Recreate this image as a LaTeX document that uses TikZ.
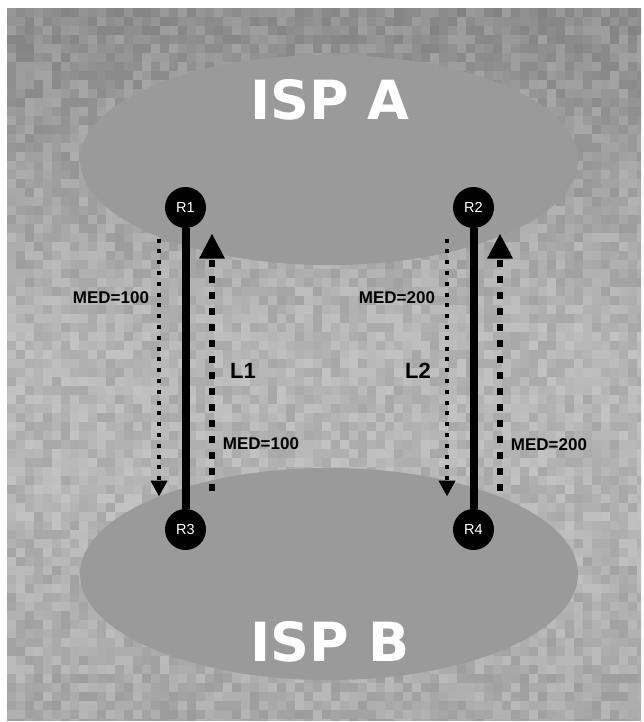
\documentclass[tikz,border=0pt]{standalone}
\usepackage{fontspec}
\setmainfont{Liberation Sans}
\newfontfamily\ispfont{DejaVu Sans}
\usetikzlibrary{arrows.meta,calc}

\definecolor{ispgray}{HTML}{9A9A9A}

\tikzset{
  router/.style={circle, fill=black, text=white, minimum size=41pt, inner sep=0pt,
    font=\fontsize{14.5}{14.5}\selectfont},
  link/.style={line width=8pt},
  medtext/.style={font=\fontsize{17}{17}\selectfont\bfseries},
  linktext/.style={font=\fontsize{22}{22}\selectfont\bfseries},
  isptext/.style={text=white, font=\ispfont\fontsize{54}{54}\selectfont\bfseries},
  sentmed/.style={line width=4pt, dash pattern=on 4pt off 6.8pt,
    -{Triangle[width=16pt,length=16pt]}},
  recvmed/.style={line width=6pt, dash pattern=on 7pt off 9pt,
    -{Triangle[width=24pt,length=25pt]}}
}

\begin{document}
\begin{tikzpicture}[x=1pt, y=-1pt]
  \useasboundingbox (0,0) rectangle (643,722);

  % Background texture
  \begin{scope}
    \clip (7,8) rectangle (641,720);
    \pgfmathsetseed{42}
    \foreach \i in {0,...,70}{
      \foreach \j in {0,...,79}{
        \pgfmathtruncatemacro{\shade}{24+11*rnd+15*max(0,1-\j/36)+5*max(0,(\j-55)/25)}
        \fill[black!\shade] (7+9*\i,8+9*\j) rectangle ++(9,9);
      }
    }
  \end{scope}

  % ISPs
  \fill[ispgray] (329,160) ellipse [x radius=249, y radius=105];
  \fill[ispgray] (329,574) ellipse [x radius=249, y radius=106];
  \node[isptext] (ispA) at (330,100) {ISP A};
  \node[isptext] (ispB) at (330,642) {ISP B};

  % Routers
  \node[router] (R1) at (185.5,207.5) {R1};
  \node[router] (R2) at (473.5,207.5) {R2};
  \node[router] (R3) at (185.5,529.5) {R3};
  \node[router] (R4) at (473.5,529.5) {R4};

  % Links
  \draw[link] (R1) -- (R3);
  \draw[link] (R2) -- (R4);

  % MED announcements
  \coordinate (s1) at ($(R1)+(-26.5,31)$);
  \coordinate (e1) at ($(R1)+(-26.5,289)$);
  \coordinate (s3) at ($(R3)+(26.5,-39)$);
  \coordinate (e3) at ($(R3)+(26.5,-296)$);
  \coordinate (s2) at ($(R2)+(-26.5,31)$);
  \coordinate (e2) at ($(R2)+(-26.5,289)$);
  \coordinate (s4) at ($(R4)+(26.5,-39)$);
  \coordinate (e4) at ($(R4)+(26.5,-296)$);
  \draw[sentmed] (s1) -- (e1);
  \draw[recvmed] (s3) -- (e3);
  \draw[sentmed] (s2) -- (e2);
  \draw[recvmed] (s4) -- (e4);

  % Labels
  \node[medtext] (med1) at (111,298) {MED=100};
  \node[medtext] (med3) at (261,444) {MED=100};
  \node[medtext] (med2) at (397,298) {MED=200};
  \node[medtext] (med4) at (549,445) {MED=200};
  \node[linktext] (L1) at (243,371) {L1};
  \node[linktext] (L2) at (418,371) {L2};
\end{tikzpicture}
\end{document}
